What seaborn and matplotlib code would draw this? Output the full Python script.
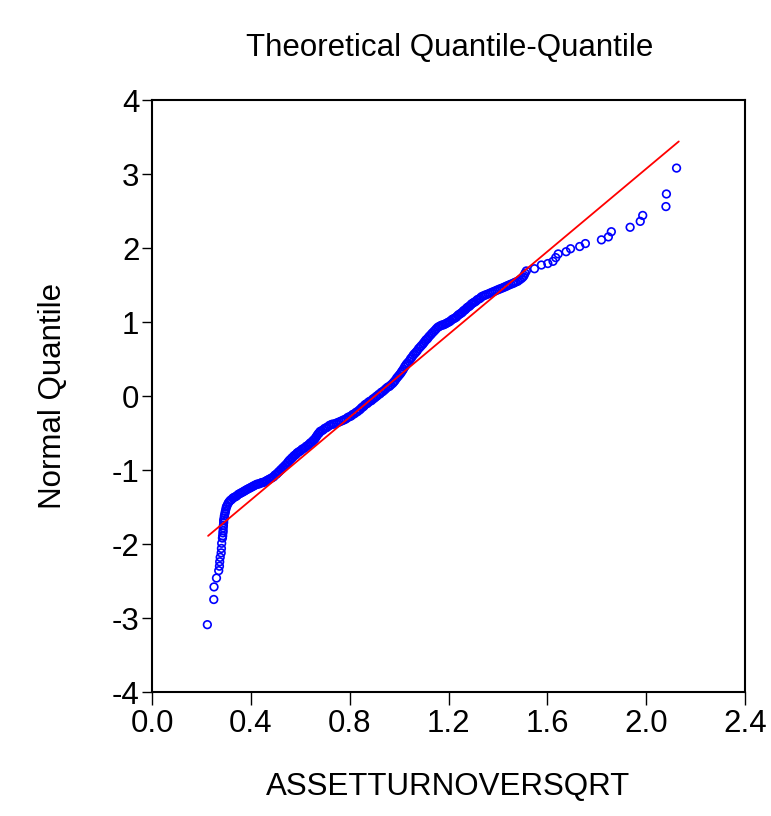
import matplotlib
matplotlib.use("Agg")
import matplotlib.pyplot as plt
from matplotlib.markers import MarkerStyle
import seaborn as sns
import pandas as pd

# ---- data ----
qq_x = [
    0.224, 0.250, 0.251, 0.261, 0.270, 0.273, 0.274, 0.276, 0.280, 0.281, 0.282, 0.285,
    0.286, 0.287, 0.288, 0.288, 0.289, 0.290, 0.290, 0.292, 0.293, 0.295, 0.297, 0.299, 0.301,
    0.304, 0.308, 0.312, 0.317, 0.322, 0.327, 0.332, 0.338, 0.343, 0.349, 0.355, 0.360,
    0.366, 0.371, 0.376, 0.381, 0.386, 0.392, 0.398, 0.403, 0.409, 0.414, 0.420,
    0.426, 0.432, 0.438, 0.444, 0.450, 0.455, 0.461, 0.466, 0.472, 0.477, 0.483, 0.488,
    0.493, 0.497, 0.502, 0.506, 0.511, 0.515, 0.520, 0.524, 0.529, 0.533, 0.538, 0.542,
    0.547, 0.551, 0.556, 0.560, 0.565, 0.569, 0.574, 0.578, 0.583, 0.587, 0.592, 0.596,
    0.602, 0.607, 0.613, 0.619, 0.624, 0.630, 0.634, 0.639, 0.643, 0.648, 0.652, 0.657,
    0.661, 0.665, 0.669, 0.673, 0.677, 0.680, 0.686, 0.692, 0.698, 0.704, 0.710, 0.717,
    0.723, 0.730, 0.737, 0.744, 0.751, 0.758, 0.765, 0.772, 0.778, 0.785, 0.792, 0.799,
    0.806, 0.812, 0.819, 0.826, 0.832, 0.839, 0.843, 0.848, 0.852, 0.857, 0.861, 0.866,
    0.872, 0.877, 0.883, 0.889, 0.894, 0.900, 0.906, 0.911, 0.917, 0.923, 0.928, 0.934,
    0.941, 0.947, 0.954, 0.961, 0.967, 0.974, 0.979, 0.984, 0.990, 0.995, 1.000, 1.005,
    1.009, 1.013, 1.017, 1.022, 1.026, 1.030, 1.035, 1.041, 1.046, 1.051, 1.057, 1.062,
    1.068, 1.073, 1.079, 1.085, 1.090, 1.096, 1.100, 1.105, 1.109, 1.114, 1.118, 1.123,
    1.129, 1.134, 1.140, 1.146, 1.151, 1.157, 1.163, 1.168, 1.174, 1.179, 1.185, 1.190,
    1.196, 1.201, 1.207, 1.213, 1.218, 1.224, 1.229, 1.233, 1.238, 1.242, 1.247, 1.251,
    1.256, 1.260, 1.265, 1.269, 1.274, 1.278, 1.283, 1.287, 1.292, 1.296, 1.301, 1.305,
    1.311, 1.316, 1.322, 1.328, 1.333, 1.339, 1.346, 1.353, 1.361, 1.368, 1.375,
    1.382, 1.389, 1.396, 1.403, 1.410, 1.418, 1.425, 1.432, 1.438, 1.445,
    1.452, 1.460, 1.466, 1.472, 1.480, 1.488, 1.496, 1.502, 1.506, 1.510, 1.515,
    1.548, 1.576, 1.602, 1.623, 1.634, 1.644, 1.676, 1.694, 1.731, 1.754, 1.819, 1.847,
    1.859, 1.935, 1.976, 1.986, 2.080, 2.082, 2.123,
]
qq_y = [
    -3.09, -2.75, -2.58, -2.46, -2.36, -2.30, -2.24, -2.18, -2.12, -2.06, -1.99, -1.92,
    -1.89, -1.85, -1.82, -1.78, -1.75, -1.71, -1.68, -1.65, -1.62, -1.59, -1.56, -1.53, -1.50,
    -1.48, -1.45, -1.43, -1.41, -1.40, -1.38, -1.37, -1.36, -1.35, -1.33, -1.32, -1.31,
    -1.30, -1.29, -1.28, -1.27, -1.26, -1.25, -1.24, -1.23, -1.22, -1.21, -1.20,
    -1.19, -1.19, -1.18, -1.17, -1.17, -1.16, -1.15, -1.14, -1.13, -1.12, -1.11, -1.10,
    -1.09, -1.07, -1.06, -1.05, -1.03, -1.02, -1.00, -0.99, -0.97, -0.96, -0.94, -0.93,
    -0.91, -0.89, -0.87, -0.86, -0.84, -0.83, -0.81, -0.80, -0.79, -0.77, -0.76, -0.75,
    -0.74, -0.72, -0.71, -0.70, -0.68, -0.67, -0.66, -0.64, -0.63, -0.62, -0.60, -0.59,
    -0.57, -0.55, -0.53, -0.51, -0.50, -0.48, -0.47, -0.46, -0.44, -0.43, -0.42, -0.40,
    -0.39, -0.38, -0.38, -0.37, -0.36, -0.35, -0.34, -0.33, -0.32, -0.31, -0.29, -0.28,
    -0.27, -0.25, -0.24, -0.22, -0.21, -0.19, -0.18, -0.16, -0.15, -0.14, -0.12, -0.11,
    -0.10, -0.08, -0.07, -0.06, -0.04, -0.03, -0.01, 0.00, 0.02, 0.03, 0.05, 0.06,
    0.08, 0.10, 0.12, 0.13, 0.15, 0.17, 0.19, 0.21, 0.24, 0.26, 0.28, 0.30,
    0.32, 0.34, 0.36, 0.39, 0.41, 0.43, 0.45, 0.47, 0.50, 0.52, 0.55, 0.57,
    0.59, 0.61, 0.64, 0.66, 0.68, 0.70, 0.72, 0.74, 0.76, 0.77, 0.79, 0.81,
    0.83, 0.85, 0.87, 0.89, 0.91, 0.93, 0.94, 0.95, 0.96, 0.96, 0.97, 0.98,
    0.99, 1.00, 1.01, 1.03, 1.04, 1.05, 1.06, 1.07, 1.09, 1.10, 1.11, 1.12,
    1.13, 1.15, 1.16, 1.17, 1.19, 1.20, 1.21, 1.22, 1.24, 1.25, 1.26, 1.27,
    1.28, 1.30, 1.31, 1.32, 1.34, 1.35, 1.36, 1.37, 1.38, 1.39, 1.40,
    1.41, 1.42, 1.43, 1.44, 1.45, 1.46, 1.47, 1.48, 1.49, 1.50,
    1.51, 1.52, 1.53, 1.54, 1.55, 1.57, 1.59, 1.61, 1.63, 1.66, 1.69,
    1.72, 1.77, 1.79, 1.82, 1.87, 1.92, 1.95, 1.99, 2.02, 2.06, 2.11, 2.15,
    2.22, 2.28, 2.36, 2.44, 2.56, 2.73, 3.08,
]
line_x = [0.227, 2.132]
line_y = [-1.89, 3.44]

x_ticks = [0.0, 0.4, 0.8, 1.2, 1.6, 2.0, 2.4]
y_ticks = [-4, -3, -2, -1, 0, 1, 2, 3, 4]

title_text = "Theoretical Quantile-Quantile"
x_label = "ASSETTURNOVERSQRT"
y_label = "Normal Quantile"

# ---- styling ----
sns.set_theme(style="white")
plt.rcParams["font.family"] = ["Liberation Sans", "DejaVu Sans"]
plt.rcParams["axes.unicode_minus"] = False

fig = plt.figure(figsize=(7.71, 8.16), dpi=100)
ax = fig.add_axes([152 / 771, 1 - 692 / 816, (745 - 152) / 771, (692 - 100) / 816])

df_pts = pd.DataFrame({"x": qq_x, "y": qq_y})
df_line = pd.DataFrame({"x": line_x, "y": line_y})

sns.lineplot(data=df_line, x="x", y="y", color="#FF0000", linewidth=1.3, ax=ax, zorder=3)
sns.scatterplot(data=df_pts, x="x", y="y", ax=ax, marker=MarkerStyle("o", fillstyle="none"),
                s=30, color="#0000FF", linewidth=1.2, zorder=2)

ax.set_xlim(0.0, 2.4)
ax.set_ylim(-4, 4)
ax.set_xticks(x_ticks)
ax.set_xticklabels([f"{v:.1f}" for v in x_ticks])
ax.set_yticks(y_ticks)
ax.set_yticklabels([str(v) for v in y_ticks])

for sp in ax.spines.values():
    sp.set_color("black")
    sp.set_linewidth(1.5)

ax.tick_params(axis="x", which="both", bottom=True, top=False, direction="out",
               length=9, width=1.0, color="black", labelsize=22.5, pad=3, labelcolor="black")
ax.tick_params(axis="y", which="both", left=True, right=False, direction="out",
               length=7, width=1.0, color="black", labelsize=22.5, pad=2, labelcolor="black")

ax.set_xlabel(x_label, fontsize=22.5, color="black")
ax.set_ylabel(y_label, fontsize=22.5, color="black")
ax.xaxis.set_label_coords(0.5, -0.135)
ax.yaxis.set_label_coords(-0.142, 0.5)

fig.text(450 / 771, 1 - 56 / 816, title_text, ha="center", va="baseline",
         fontsize=22.5, color="black")

fig.savefig("out.png", dpi=100, facecolor="white")
